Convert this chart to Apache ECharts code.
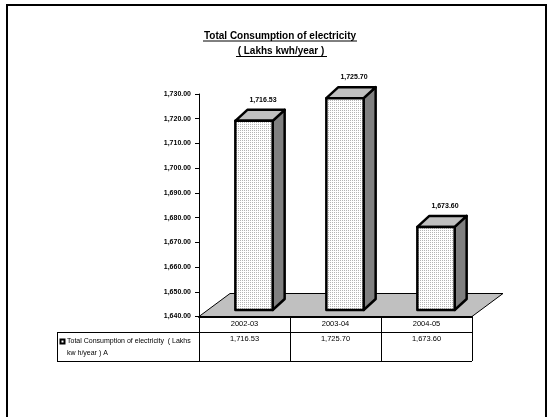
<!DOCTYPE html>
<html>
<head>
<meta charset="utf-8">
<script src="https://cdn.jsdelivr.net/npm/echarts@6/dist/echarts.min.js"></script>
<style>
  html, body { margin: 0; padding: 0; background: #fff; }
  #chart { width: 549px; height: 417px; }
</style>
</head>
<body>
<div id="chart"></div>
<script>
// Annual electricity consumption, lakhs kWh per year
const categories = ['2002-03', '2003-04', '2004-05'];
const consumption = [1716.53, 1725.70, 1673.60];
const seriesName = 'Total Consumption of electricity  ( Lakhs';
const seriesName2 = 'kw h/year ) A';
const titleLines = ['Total Consumption of electricity', '( Lakhs kwh/year )'];
const yMin = 1640, yMax = 1730, yStep = 10;

const FONT = '"Liberation Sans", Arial, sans-serif';
const fmt = v => v.toLocaleString('en-US', { minimumFractionDigits: 2, maximumFractionDigits: 2 });

// stippled fill for the column fronts
function stipple() {
  const c = document.createElement('canvas');
  c.width = 2; c.height = 2;
  const g = c.getContext('2d');
  g.fillStyle = '#ffffff'; g.fillRect(0, 0, 2, 2);
  g.fillStyle = '#b4b4b4'; g.fillRect(0, 0, 1, 1);
  return c;
}
const frontFill = { image: stipple(), repeat: 'repeat' };

// 3D offsets (pixels)
const DEPTH_X = 12, DEPTH_Y = -11;      // column depth
const FLOOR_X = 31, FLOOR_Y = -23;      // floor depth
const SHIFT_X = 9.5, SHIFT_Y = -6.5;    // column front plane inside the floor

const chart = echarts.init(document.getElementById('chart'), null, { renderer: 'canvas' });

const option = {
  animation: false,
  backgroundColor: '#fff',
  grid: { left: 199, right: 77, top: 94, bottom: 100.5 },
  xAxis: {
    type: 'category',
    data: categories,
    z: 5,
    axisLine: { show: true, lineStyle: { color: '#000', width: 2 } },
    axisTick: { show: true, length: 44.5, lineStyle: { color: '#000', width: 1 } },
    axisLabel: {
      margin: 0,
      color: '#000',
      fontFamily: FONT,
      formatter: (val, idx) => `{c|${val}}\n{v|${fmt(consumption[idx])}}`,
      rich: {
        c: { fontSize: 7.5, lineHeight: 15, fontFamily: FONT, color: '#000' },
        v: { fontSize: 7.5, lineHeight: 15, fontFamily: FONT, color: '#000' }
      }
    },
    splitLine: { show: false }
  },
  yAxis: {
    type: 'value',
    min: yMin, max: yMax, interval: yStep,
    axisLine: { show: true, lineStyle: { color: '#000', width: 1 } },
    axisTick: { show: true, length: 4, lineStyle: { color: '#000' } },
    axisLabel: {
      margin: 8, color: '#000', fontSize: 7, fontWeight: 'bold', fontFamily: FONT,
      formatter: v => fmt(v)
    },
    splitLine: { show: false }
  },
  graphic: [
    // page frame
    { type: 'line', shape: { x1: 6, y1: 5, x2: 547, y2: 5 }, style: { stroke: '#000', lineWidth: 2 } },
    { type: 'line', shape: { x1: 7, y1: 4, x2: 7, y2: 417 }, style: { stroke: '#000', lineWidth: 2 } },
    { type: 'line', shape: { x1: 546, y1: 4, x2: 546, y2: 417 }, style: { stroke: '#000', lineWidth: 2 } },
    // title
    { type: 'text', x: 280, y: 36, style: { text: titleLines[0], font: 'bold 10px ' + FONT, fill: '#000', align: 'center', verticalAlign: 'middle' } },
    { type: 'line', shape: { x1: 203, y1: 41, x2: 357, y2: 41 }, style: { stroke: '#000', lineWidth: 1 } },
    { type: 'text', x: 281, y: 51.5, style: { text: titleLines[1], font: 'bold 10px ' + FONT, fill: '#000', align: 'center', verticalAlign: 'middle' } },
    { type: 'line', shape: { x1: 236, y1: 56.5, x2: 327, y2: 56.5 }, style: { stroke: '#000', lineWidth: 1 } },
    // data table rules
    { type: 'line', shape: { x1: 57, y1: 332.5, x2: 472, y2: 332.5 }, style: { stroke: '#000', lineWidth: 1 } },
    { type: 'line', shape: { x1: 57, y1: 361.5, x2: 472, y2: 361.5 }, style: { stroke: '#000', lineWidth: 1 } },
    { type: 'line', shape: { x1: 57.5, y1: 332, x2: 57.5, y2: 362 }, style: { stroke: '#000', lineWidth: 1 } },
    // legend key and series name
    { type: 'rect', shape: { x: 59.5, y: 338.5, width: 6, height: 6 }, style: { fill: '#000' } },
    { type: 'rect', shape: { x: 61.5, y: 340.5, width: 2, height: 2 }, style: { fill: '#fff' } },
    { type: 'text', x: 67, y: 341.5, style: { text: seriesName, font: '7px ' + FONT, fill: '#000', verticalAlign: 'middle' } },
    { type: 'text', x: 67, y: 353, style: { text: seriesName2, font: '7px ' + FONT, fill: '#000', verticalAlign: 'middle' } }
  ],
  series: [
    {
      // floor plate
      type: 'custom',
      z: 1,
      silent: true,
      data: [[0, yMin]],
      encode: { x: 0, y: 1 },
      renderItem: (params) => {
        const cs = params.coordSys;
        const y0 = cs.y + cs.height, x0 = cs.x, x1 = cs.x + cs.width;
        return {
          type: 'polygon',
          shape: { points: [[x0, y0], [x0 + FLOOR_X, y0 + FLOOR_Y], [x1 + FLOOR_X, y0 + FLOOR_Y], [x1, y0]] },
          style: { fill: '#c0c0c0', stroke: '#000', lineWidth: 1 }
        };
      }
    },
    {
      // columns
      type: 'custom',
      z: 3,
      name: seriesName,
      data: consumption.map((v, i) => [i, v]),
      encode: { x: 0, y: 1 },
      renderItem: (params, api) => {
        const idx = api.value(0), v = api.value(1);
        const top = api.coord([idx, v]);
        const base = api.coord([idx, yMin]);
        const bw = api.size([1, 0])[0];
        const half = bw * 0.205;
        const cx = top[0] + SHIFT_X;
        const xa = cx - half, xb = cx + half;
        const ya = top[1] + SHIFT_Y, yb = base[1] + SHIFT_Y;
        const edge = { stroke: '#000', lineWidth: 2.5, lineJoin: 'round' };
        return {
          type: 'group',
          children: [
            { type: 'polygon', shape: { points: [[xb, ya], [xb + DEPTH_X, ya + DEPTH_Y], [xb + DEPTH_X, yb + DEPTH_Y], [xb, yb]] },
              style: Object.assign({ fill: '#808080' }, edge) },
            { type: 'polygon', shape: { points: [[xa, ya], [xa + DEPTH_X, ya + DEPTH_Y], [xb + DEPTH_X, ya + DEPTH_Y], [xb, ya]] },
              style: Object.assign({ fill: '#c0c0c0' }, edge) },
            { type: 'rect', shape: { x: xa, y: ya, width: xb - xa, height: yb - ya },
              style: Object.assign({ fill: frontFill }, edge) },
            { type: 'text', x: cx + 9, y: ya + DEPTH_Y - 10,
              style: { text: fmt(v), font: 'bold 7px ' + FONT, fill: '#000', align: 'center', verticalAlign: 'middle' } }
          ]
        };
      }
    }
  ]
};
chart.setOption(option);
</script>
</body>
</html>
